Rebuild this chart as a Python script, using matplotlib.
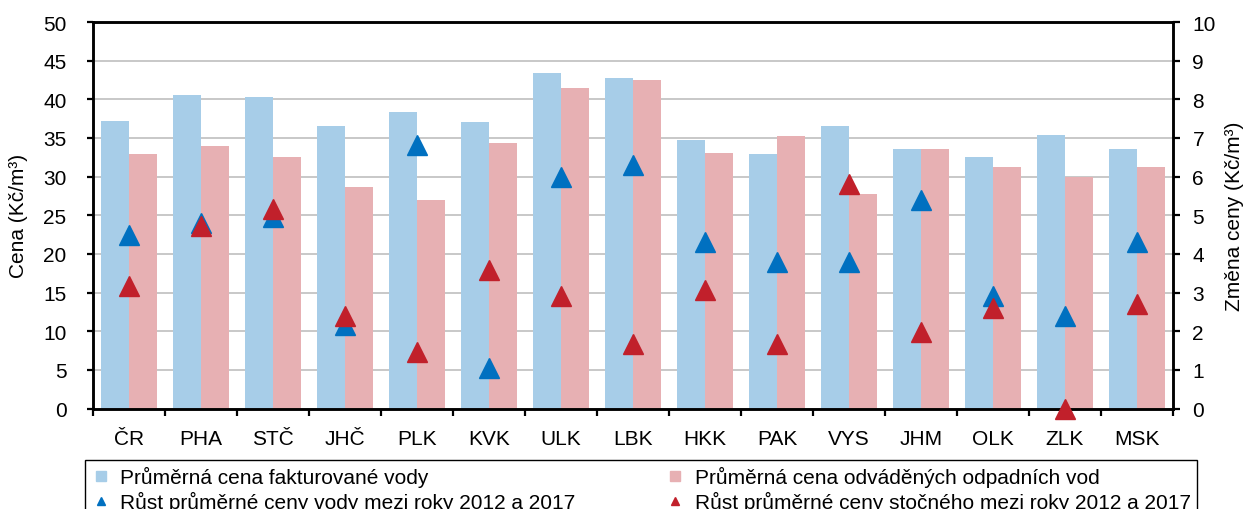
import matplotlib
matplotlib.use("Agg")
import matplotlib.pyplot as plt
from matplotlib.lines import Line2D
import numpy as np

plt.rcParams['font.family'] = ['Liberation Sans', 'DejaVu Sans']

kraje = ['ČR', 'PHA', 'STČ', 'JHČ', 'PLK', 'KVK', 'ULK', 'LBK',
         'HKK', 'PAK', 'VYS', 'JHM', 'OLK', 'ZLK', 'MSK']

# průměrné ceny (Kč/m3)
cena_voda = [37.2, 40.6, 40.3, 36.5, 38.3, 37.0, 43.4, 42.7,
             34.7, 32.9, 36.5, 33.6, 32.6, 35.4, 33.6]
cena_stocne = [32.9, 34.0, 32.6, 28.7, 27.0, 34.4, 41.4, 42.5,
               33.1, 35.2, 27.7, 33.6, 31.3, 30.0, 31.3]

# změna ceny 2012 -> 2017 (Kč/m3)
rust_voda = [4.50, 4.80, 4.95, 2.17, 6.83, 1.05, 6.00, 6.31,
             4.31, 3.79, 3.79, 5.39, 2.91, 2.39, 4.31]
rust_stocne = [3.16, 4.71, 5.16, 2.39, 1.46, 3.58, 2.90, 1.67,
               3.07, 1.67, 5.80, 1.98, 2.60, 0.00, 2.70]

c_voda = '#A7CDE8'
c_stocne = '#E7B0B3'
c_tri_voda = '#0070C0'
c_tri_stocne = '#C1202B'
fs = 15

fig = plt.figure(figsize=(12.47, 5.10), dpi=100)
ax = fig.add_axes([93 / 1247, 1 - 409.5 / 510, 1080 / 1247, 386.5 / 510])
ax2 = ax.twinx()

x = np.arange(len(kraje))
w = 0.39
ax.bar(x - w / 2, cena_voda, w, color=c_voda, zorder=2)
ax.bar(x + w / 2, cena_stocne, w, color=c_stocne, zorder=2)

ax2.plot(x, rust_voda, linestyle='none', marker='^', markersize=14,
         color=c_tri_voda, clip_on=False, zorder=3)
ax2.plot(x, rust_stocne, linestyle='none', marker='^', markersize=14,
         color=c_tri_stocne, clip_on=False, zorder=4)

ax.set_xlim(-0.5, len(kraje) - 0.5)
ax.set_ylim(0, 50)
ax2.set_ylim(0, 10)
ax.set_yticks(np.arange(0, 51, 5))
ax2.set_yticks(np.arange(0, 11, 1))

ax.set_xticks(x)
ax.set_xticklabels(kraje)
ax.set_xticks(np.arange(-0.5, len(kraje), 1), minor=True)
ax.tick_params(axis='x', which='major', length=0, pad=15, labelsize=fs)
ax.tick_params(axis='x', which='minor', length=5, width=1.6, direction='out')
ax.tick_params(axis='y', length=4, width=1.6, pad=15, labelsize=fs)
ax2.tick_params(axis='y', length=5, width=1.6, pad=9, labelsize=fs)

ax.grid(axis='y', color='#BFBFBF', linewidth=1.2, zorder=0)
ax.set_axisbelow(True)

for a in (ax, ax2):
    for s in a.spines.values():
        s.set_linewidth(1.8)
        s.set_color('black')

ax.set_ylabel('Cena (Kč/m³)', fontsize=fs)
ax.yaxis.set_label_coords(-0.06, 0.5)
ax2.set_ylabel('Změna ceny (Kč/m³)', fontsize=fs)
ax2.yaxis.set_label_coords(1.048, 0.5)

handles = [
    Line2D([], [], linestyle='none', marker='s', markersize=7, color=c_voda),
    Line2D([], [], linestyle='none', marker='^', markersize=6, color=c_tri_voda),
    Line2D([], [], linestyle='none', marker='s', markersize=7, color=c_stocne),
    Line2D([], [], linestyle='none', marker='^', markersize=6, color=c_tri_stocne),
]
labels = [
    'Průměrná cena fakturované vody',
    'Růst průměrné ceny vody mezi roky 2012 a 2017',
    'Průměrná cena odváděných odpadních vod',
    'Růst průměrné ceny stočného mezi roky 2012 a 2017',
]
leg = fig.legend(handles, labels, ncol=2, loc='upper left',
                 bbox_to_anchor=(85 / 1247, 1 - 460.7 / 510, 1112 / 1247, 0),
                 mode='expand', fontsize=fs, frameon=True, fancybox=False,
                 edgecolor='black', framealpha=1, handlelength=0.9,
                 handletextpad=0.5, labelspacing=0.2, borderpad=0.3,
                 borderaxespad=0)
leg.get_frame().set_linewidth(1.0)

fig.savefig('out.png', dpi=100)
